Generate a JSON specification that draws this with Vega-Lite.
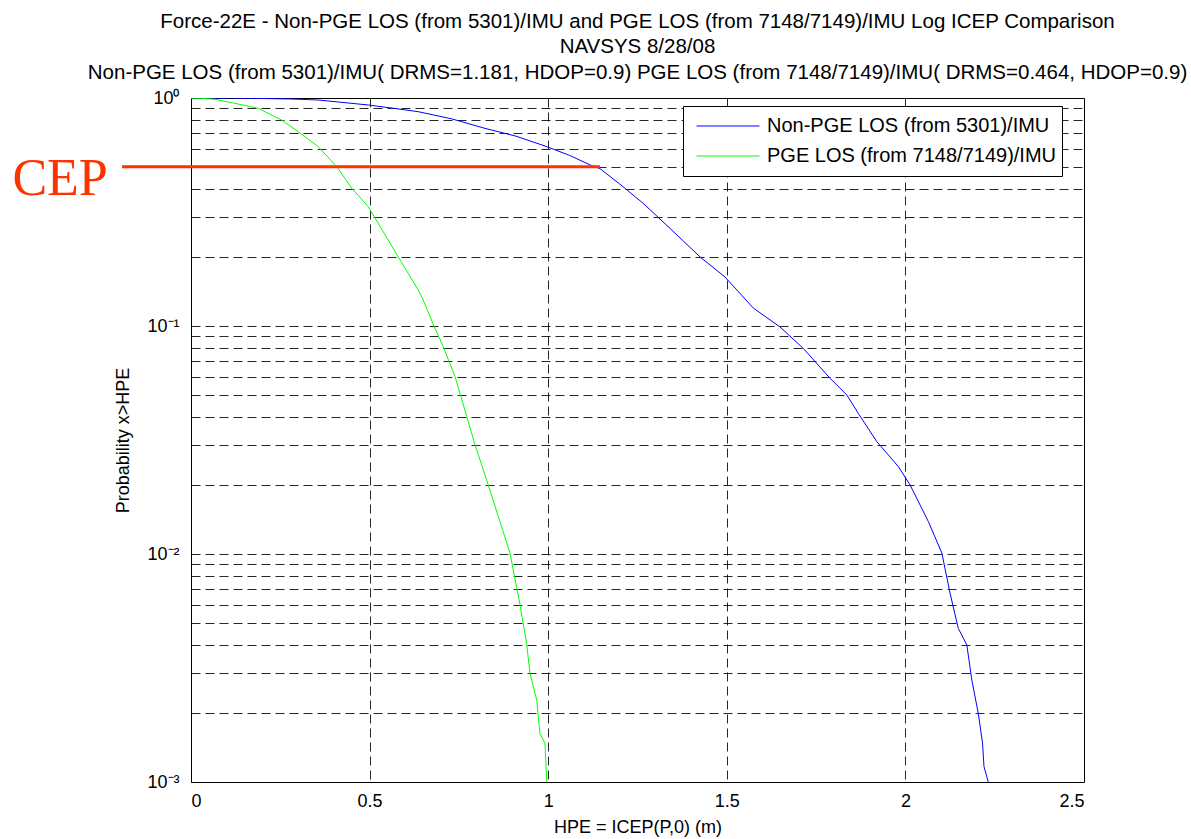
{
  "$schema": "https://vega.github.io/schema/vega-lite/v6.json",
  "width": 893,
  "height": 684,
  "autosize": {"type": "none"},
  "padding": {"left": 191, "top": 98, "right": 107, "bottom": 57},
  "background": "white",
  "config": {
    "view": {"stroke": "black", "strokeWidth": 1},
    "font": "Liberation Sans",
    "axis": {
      "labelFont": "Liberation Sans",
      "titleFont": "Liberation Sans",
      "labelColor": "black",
      "titleColor": "black",
      "titleFontWeight": "normal",
      "labelFontSize": 18,
      "titleFontSize": 18,
      "domain": false,
      "ticks": false,
      "grid": true,
      "gridColor": "black",
      "gridOpacity": 0.85,
      "gridDash": [9, 5],
      "gridWidth": 1
    }
  },
  "title": {
    "text": [
      "Force-22E - Non-PGE LOS (from 5301)/IMU and PGE LOS (from 7148/7149)/IMU Log ICEP Comparison",
      "NAVSYS 8/28/08",
      "Non-PGE LOS (from 5301)/IMU( DRMS=1.181, HDOP=0.9) PGE LOS (from 7148/7149)/IMU( DRMS=0.464, HDOP=0.9)"
    ],
    "anchor": "middle",
    "frame": "group",
    "font": "Liberation Sans",
    "fontSize": 20.5,
    "fontWeight": "normal",
    "color": "black",
    "lineHeight": 25.5,
    "offset": 6
  },
  "datasets": {
    "curves": [
      {"x": 0, "p": 1, "series": "Non-PGE LOS (from 5301)/IMU"},
      {"x": 0.1, "p": 1, "series": "Non-PGE LOS (from 5301)/IMU"},
      {"x": 0.2, "p": 0.995, "series": "Non-PGE LOS (from 5301)/IMU"},
      {"x": 0.28, "p": 0.99, "series": "Non-PGE LOS (from 5301)/IMU"},
      {"x": 0.356, "p": 0.98, "series": "Non-PGE LOS (from 5301)/IMU"},
      {"x": 0.431, "p": 0.954, "series": "Non-PGE LOS (from 5301)/IMU"},
      {"x": 0.496, "p": 0.932, "series": "Non-PGE LOS (from 5301)/IMU"},
      {"x": 0.57, "p": 0.9, "series": "Non-PGE LOS (from 5301)/IMU"},
      {"x": 0.636, "p": 0.871, "series": "Non-PGE LOS (from 5301)/IMU"},
      {"x": 0.73, "p": 0.81, "series": "Non-PGE LOS (from 5301)/IMU"},
      {"x": 0.823, "p": 0.736, "series": "Non-PGE LOS (from 5301)/IMU"},
      {"x": 0.91, "p": 0.68, "series": "Non-PGE LOS (from 5301)/IMU"},
      {"x": 0.996, "p": 0.612, "series": "Non-PGE LOS (from 5301)/IMU"},
      {"x": 1.06, "p": 0.56, "series": "Non-PGE LOS (from 5301)/IMU"},
      {"x": 1.122, "p": 0.505, "series": "Non-PGE LOS (from 5301)/IMU"},
      {"x": 1.145, "p": 0.49, "series": "Non-PGE LOS (from 5301)/IMU"},
      {"x": 1.2, "p": 0.42, "series": "Non-PGE LOS (from 5301)/IMU"},
      {"x": 1.266, "p": 0.345, "series": "Non-PGE LOS (from 5301)/IMU"},
      {"x": 1.341, "p": 0.268, "series": "Non-PGE LOS (from 5301)/IMU"},
      {"x": 1.425, "p": 0.201, "series": "Non-PGE LOS (from 5301)/IMU"},
      {"x": 1.495, "p": 0.164, "series": "Non-PGE LOS (from 5301)/IMU"},
      {"x": 1.574, "p": 0.12, "series": "Non-PGE LOS (from 5301)/IMU"},
      {"x": 1.649, "p": 0.099, "series": "Non-PGE LOS (from 5301)/IMU"},
      {"x": 1.714, "p": 0.0798, "series": "Non-PGE LOS (from 5301)/IMU"},
      {"x": 1.789, "p": 0.059, "series": "Non-PGE LOS (from 5301)/IMU"},
      {"x": 1.836, "p": 0.0498, "series": "Non-PGE LOS (from 5301)/IMU"},
      {"x": 1.868, "p": 0.0414, "series": "Non-PGE LOS (from 5301)/IMU"},
      {"x": 1.92, "p": 0.0311, "series": "Non-PGE LOS (from 5301)/IMU"},
      {"x": 1.98, "p": 0.0242, "series": "Non-PGE LOS (from 5301)/IMU"},
      {"x": 2.013, "p": 0.0201, "series": "Non-PGE LOS (from 5301)/IMU"},
      {"x": 2.064, "p": 0.0139, "series": "Non-PGE LOS (from 5301)/IMU"},
      {"x": 2.102, "p": 0.0101, "series": "Non-PGE LOS (from 5301)/IMU"},
      {"x": 2.125, "p": 0.00673, "series": "Non-PGE LOS (from 5301)/IMU"},
      {"x": 2.148, "p": 0.00472, "series": "Non-PGE LOS (from 5301)/IMU"},
      {"x": 2.172, "p": 0.00399, "series": "Non-PGE LOS (from 5301)/IMU"},
      {"x": 2.186, "p": 0.0028, "series": "Non-PGE LOS (from 5301)/IMU"},
      {"x": 2.204, "p": 0.002, "series": "Non-PGE LOS (from 5301)/IMU"},
      {"x": 2.216, "p": 0.00148, "series": "Non-PGE LOS (from 5301)/IMU"},
      {"x": 2.22, "p": 0.00117, "series": "Non-PGE LOS (from 5301)/IMU"},
      {"x": 2.232, "p": 0.001, "series": "Non-PGE LOS (from 5301)/IMU"},
      {"x": 0, "p": 1, "series": "PGE LOS (from 7148/7149)/IMU"},
      {"x": 0.03, "p": 0.997, "series": "PGE LOS (from 7148/7149)/IMU"},
      {"x": 0.067, "p": 0.987, "series": "PGE LOS (from 7148/7149)/IMU"},
      {"x": 0.123, "p": 0.948, "series": "PGE LOS (from 7148/7149)/IMU"},
      {"x": 0.189, "p": 0.9, "series": "PGE LOS (from 7148/7149)/IMU"},
      {"x": 0.254, "p": 0.8, "series": "PGE LOS (from 7148/7149)/IMU"},
      {"x": 0.3, "p": 0.712, "series": "PGE LOS (from 7148/7149)/IMU"},
      {"x": 0.356, "p": 0.612, "series": "PGE LOS (from 7148/7149)/IMU"},
      {"x": 0.408, "p": 0.5, "series": "PGE LOS (from 7148/7149)/IMU"},
      {"x": 0.45, "p": 0.402, "series": "PGE LOS (from 7148/7149)/IMU"},
      {"x": 0.496, "p": 0.334, "series": "PGE LOS (from 7148/7149)/IMU"},
      {"x": 0.524, "p": 0.282, "series": "PGE LOS (from 7148/7149)/IMU"},
      {"x": 0.58, "p": 0.201, "series": "PGE LOS (from 7148/7149)/IMU"},
      {"x": 0.636, "p": 0.144, "series": "PGE LOS (from 7148/7149)/IMU"},
      {"x": 0.65, "p": 0.13, "series": "PGE LOS (from 7148/7149)/IMU"},
      {"x": 0.679, "p": 0.101, "series": "PGE LOS (from 7148/7149)/IMU"},
      {"x": 0.706, "p": 0.0812, "series": "PGE LOS (from 7148/7149)/IMU"},
      {"x": 0.739, "p": 0.0601, "series": "PGE LOS (from 7148/7149)/IMU"},
      {"x": 0.772, "p": 0.0401, "series": "PGE LOS (from 7148/7149)/IMU"},
      {"x": 0.795, "p": 0.0302, "series": "PGE LOS (from 7148/7149)/IMU"},
      {"x": 0.832, "p": 0.0201, "series": "PGE LOS (from 7148/7149)/IMU"},
      {"x": 0.893, "p": 0.0101, "series": "PGE LOS (from 7148/7149)/IMU"},
      {"x": 0.921, "p": 0.006, "series": "PGE LOS (from 7148/7149)/IMU"},
      {"x": 0.94, "p": 0.004, "series": "PGE LOS (from 7148/7149)/IMU"},
      {"x": 0.949, "p": 0.003, "series": "PGE LOS (from 7148/7149)/IMU"},
      {"x": 0.968, "p": 0.00228, "series": "PGE LOS (from 7148/7149)/IMU"},
      {"x": 0.977, "p": 0.00163, "series": "PGE LOS (from 7148/7149)/IMU"},
      {"x": 0.991, "p": 0.00148, "series": "PGE LOS (from 7148/7149)/IMU"},
      {"x": 0.996, "p": 0.001, "series": "PGE LOS (from 7148/7149)/IMU"}
    ],
    "cep": [
      {"x": -0.193, "x2": 1.145, "p": 0.5, "label": "CEP", "lx": -0.5}
    ]
  },
  "layer": [
    {
      "data": {"name": "curves"},
      "mark": {"type": "line", "strokeWidth": 1, "clip": true},
      "encoding": {
        "x": {
          "field": "x",
          "type": "quantitative",
          "scale": {"domain": [0, 2.5], "nice": false, "zero": false},
          "axis": {
            "title": "HPE = ICEP(P,0) (m)",
            "values": [0, 0.5, 1, 1.5, 2, 2.5],
            "format": "~g",
            "labelPadding": 10,
            "titlePadding": 8
          }
        },
        "y": {
          "field": "p",
          "type": "quantitative",
          "scale": {"type": "log", "domain": [0.001, 1], "nice": false},
          "axis": {
            "title": "Probability x>HPE",
            "values": [0.001, 0.002, 0.003, 0.004, 0.005, 0.006, 0.007, 0.008, 0.009, 0.01, 0.02, 0.03, 0.04, 0.05, 0.06, 0.07, 0.08, 0.09, 0.1, 0.2, 0.3, 0.4, 0.5, 0.6, 0.7, 0.8, 0.9, 1],
            "labelExpr": "datum.value == 1 ? '10⁰' : datum.value == 0.1 ? '10⁻¹' : datum.value == 0.01 ? '10⁻²' : datum.value == 0.001 ? '10⁻³' : ''",
            "labelPadding": 12,
            "titlePadding": 14
          }
        },
        "color": {
          "field": "series",
          "type": "nominal",
          "scale": {
            "domain": ["Non-PGE LOS (from 5301)/IMU", "PGE LOS (from 7148/7149)/IMU"],
            "range": ["#0000ff", "#00ff00"]
          },
          "legend": {
            "title": null,
            "orient": "none",
            "legendX": 492,
            "legendY": 8,
            "fillColor": "white",
            "strokeColor": "black",
            "padding": 5,
            "clipHeight": 30,
            "rowPadding": 0,
            "symbolType": "stroke",
            "symbolSize": 3969,
            "symbolOffset": 8,
            "symbolStrokeWidth": 1,
            "labelFont": "Liberation Sans",
            "labelFontSize": 20,
            "labelColor": "black",
            "labelOffset": 7,
            "labelLimit": 400
          }
        }
      }
    },
    {
      "data": {"name": "cep"},
      "mark": {"type": "rule", "color": "#ff3300", "strokeWidth": 3},
      "encoding": {
        "x": {"field": "x", "type": "quantitative"},
        "x2": {"field": "x2"},
        "y": {"field": "p", "type": "quantitative"}
      }
    },
    {
      "data": {"name": "cep"},
      "mark": {"type": "text", "color": "#ff3300", "font": "Liberation Serif", "fontSize": 52, "align": "left", "baseline": "middle", "dy": 12},
      "encoding": {
        "x": {"field": "lx", "type": "quantitative"},
        "y": {"field": "p", "type": "quantitative"},
        "text": {"field": "label"}
      }
    }
  ]
}
